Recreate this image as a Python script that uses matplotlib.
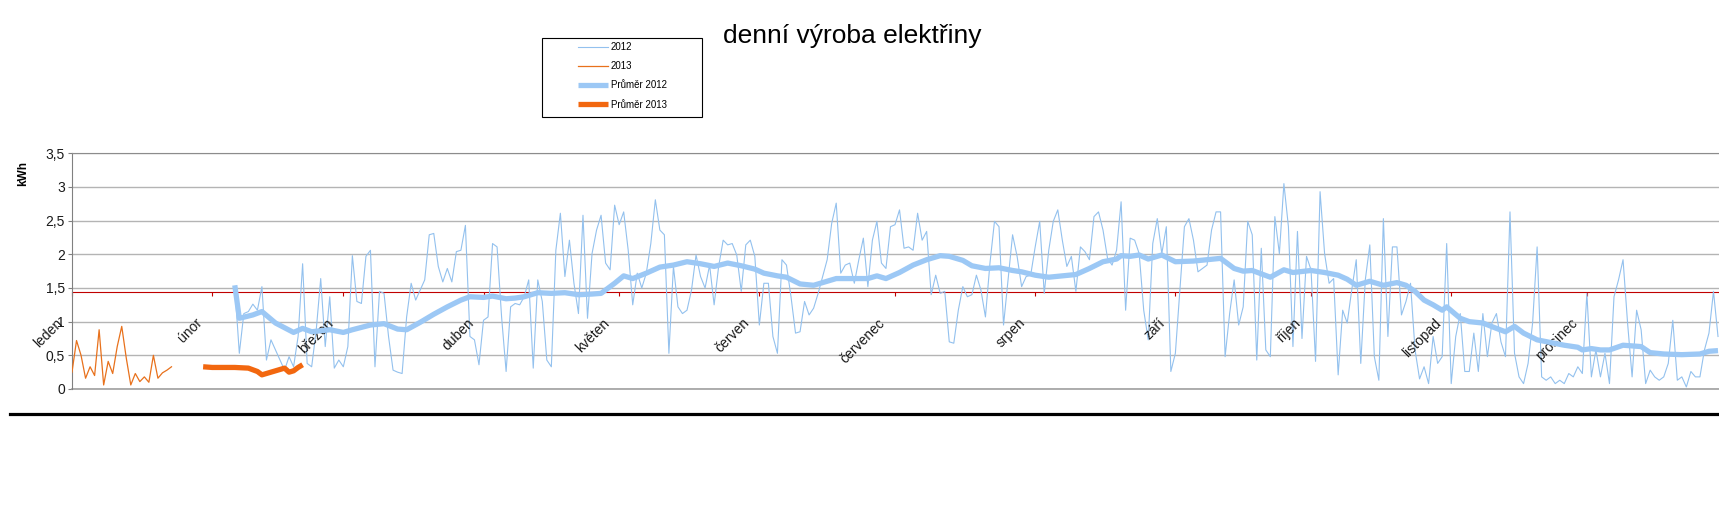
import matplotlib
matplotlib.use('Agg')
import matplotlib.pyplot as plt
import numpy as np
from matplotlib.ticker import FuncFormatter
from matplotlib.lines import Line2D
from matplotlib.patches import Rectangle

plt.rcParams['font.family'] = ['Liberation Sans', 'DejaVu Sans']

# mesice a jejich prvni den (den v roce, od 0)
mesice = ['leden', 'únor', 'březen', 'duben', 'květen', 'červen',
          'červenec', 'srpen', 'září', 'říjen', 'listopad', 'prosinec']
zacatky_mesicu = [0, 31, 60, 91, 121, 152, 182, 213, 244, 274, 305, 335]

# denni vyroba 2012 (kWh), od dne 36
prvni_den_2012 = 36
vyroba_2012 = [
    1.52, 0.53, 1.12, 1.15, 1.26, 1.17, 1.52, 0.43, 0.73, 0.58, 0.43, 0.28, 0.48,
    0.33, 0.78, 1.86, 0.38, 0.33, 0.87, 1.64, 0.63, 1.37, 0.31, 0.43, 0.33, 0.63,
    1.98, 1.30, 1.27, 1.97, 2.06, 0.33, 1.45, 1.42, 0.78, 0.28, 0.25, 0.23, 1.07,
    1.57, 1.32, 1.47, 1.62, 2.29, 2.31, 1.82, 1.59, 1.79, 1.59, 2.04, 2.06, 2.43,
    0.78, 0.73, 0.36, 1.02, 1.07, 2.16, 2.11, 1.07, 0.26, 1.22, 1.27, 1.25, 1.37,
    # duben - cerven
    1.62, 0.31, 1.62, 1.30, 0.43, 0.33, 2.06, 2.61, 1.67, 2.21, 1.57, 1.12, 2.58,
    1.05, 2.01, 2.36, 2.58, 1.87, 1.77, 2.73, 2.44, 2.63, 2.06, 1.25, 1.72, 1.50,
    1.72, 2.16, 2.81, 2.36, 2.29, 0.53, 1.82, 1.22, 1.12, 1.17, 1.47, 1.99, 1.67,
    1.50, 1.84, 1.25, 1.82, 2.21, 2.14, 2.16, 1.99, 1.45, 2.14, 2.21, 1.97, 0.95,
    1.57, 1.57, 0.78, 0.53, 1.92, 1.84, 1.37, 0.83, 0.85, 1.30, 1.10, 1.20, 1.42,
    1.67,
    # cerven - srpen
    1.92, 2.46, 2.76, 1.72, 1.84, 1.87, 1.57, 1.92, 2.24, 1.52, 2.21, 2.49, 1.87,
    1.79, 2.41, 2.44, 2.66, 2.09, 2.11, 2.06, 2.61, 2.21, 2.34, 1.40, 1.69, 1.42,
    1.45, 0.70, 0.68, 1.17, 1.52, 1.37, 1.40, 1.69, 1.47, 1.07, 1.87, 2.49, 2.41,
    0.95, 1.62, 2.29, 1.97, 1.52, 1.67, 1.69, 2.11, 2.49, 1.42, 2.06, 2.49, 2.66,
    2.21, 1.82, 1.97, 1.45, 2.11, 2.04, 1.92, 2.56, 2.63, 2.36, 1.94, 1.84, 2.06,
    2.78,
    # srpen - rijen
    1.17, 2.24, 2.21, 2.01, 1.17, 0.73, 2.16, 2.53, 2.01, 2.41, 0.26, 0.53, 1.47,
    2.41, 2.53, 2.21, 1.74, 1.79, 1.84, 2.36, 2.63, 2.63, 0.48, 1.12, 1.62, 0.95,
    1.22, 2.49, 2.29, 0.43, 2.09, 0.58, 0.48, 2.56, 2.01, 3.05, 2.41, 0.63, 2.34,
    0.75, 1.97, 1.77, 0.41, 2.93, 2.01, 1.57, 1.64, 0.21, 1.17, 0.98, 1.47, 1.92,
    0.38, 1.62, 2.14, 0.48, 0.13, 2.53, 0.78, 2.11, 2.11, 1.10, 1.30, 1.57, 0.58,
    # rijen - prosinec
    0.15, 0.33, 0.08, 0.78, 0.38, 0.48, 2.16, 0.08, 0.78, 1.12, 0.26, 0.26, 0.83,
    0.26, 1.12, 0.48, 0.98, 1.12, 0.70, 0.48, 2.63, 0.53, 0.18, 0.08, 0.38, 0.98,
    2.11, 0.18, 0.13, 0.18, 0.08, 0.13, 0.08, 0.23, 0.18, 0.33, 0.23, 1.42, 0.18,
    0.58, 0.18, 0.53, 0.08, 1.37, 1.62, 1.92, 0.98, 0.18, 1.17, 0.88, 0.08, 0.28,
    0.18, 0.13, 0.18, 0.38, 1.02, 0.13, 0.18, 0.03, 0.26, 0.18, 0.18, 0.58, 0.83,
    1.45, 0.78,
]

# denni vyroba 2013 (kWh), od dne 0
vyroba_2013 = [0.25, 0.72, 0.50, 0.16, 0.33, 0.20, 0.88, 0.06, 0.41, 0.23, 0.63,
               0.93, 0.46, 0.06, 0.23, 0.11, 0.18, 0.10, 0.50, 0.16, 0.24, 0.28,
               0.33]

# prumery
prumer_2012_dny = [36, 37, 40, 42, 45, 49, 51, 53, 57, 60, 62, 66, 69, 72, 74, 77,
                   80, 83, 86, 88, 91, 93, 96, 98, 100, 103, 106, 109, 112, 115,
                   117, 120, 122, 124, 127, 130, 133, 136, 139, 142, 145, 148, 151,
                   153, 156, 158, 161, 164, 166, 169, 172, 176, 178, 180, 183, 186,
                   189, 192, 194, 197, 199, 202, 205, 208, 210, 213, 216, 219, 222,
                   225, 228, 231, 232, 234, 236, 238, 241, 244, 248, 251, 254, 257,
                   259, 261, 263, 265, 268, 270, 274, 277, 280, 282, 284, 287, 290,
                   293, 295, 297, 299, 301, 303, 304, 307, 309, 312, 315, 317, 319,
                   321, 324, 327, 330, 333, 334, 336, 338, 340, 343, 345, 347, 349,
                   352, 356, 360, 362, 364]
prumer_2012 = [1.54, 1.05, 1.10, 1.15, 0.98, 0.84, 0.90, 0.85, 0.88, 0.84, 0.88,
               0.95, 0.97, 0.89, 0.88, 0.99, 1.11, 1.22, 1.32, 1.37, 1.36, 1.38,
               1.34, 1.35, 1.37, 1.43, 1.42, 1.43, 1.40, 1.41, 1.42, 1.57, 1.68,
               1.64, 1.72, 1.81, 1.84, 1.89, 1.86, 1.82, 1.87, 1.83, 1.78, 1.72,
               1.68, 1.66, 1.56, 1.54, 1.58, 1.64, 1.64, 1.64, 1.68, 1.64, 1.73,
               1.84, 1.92, 1.98, 1.97, 1.91, 1.83, 1.79, 1.80, 1.76, 1.74, 1.69,
               1.66, 1.68, 1.70, 1.79, 1.89, 1.93, 1.98, 1.97, 1.99, 1.93, 1.99,
               1.89, 1.90, 1.92, 1.94, 1.79, 1.75, 1.76, 1.71, 1.66, 1.77, 1.73,
               1.76, 1.73, 1.69, 1.63, 1.54, 1.60, 1.54, 1.58, 1.54, 1.45, 1.32,
               1.25, 1.17, 1.22, 1.05, 1.00, 0.98, 0.90, 0.85, 0.93, 0.83, 0.73,
               0.69, 0.65, 0.62, 0.58, 0.60, 0.58, 0.58, 0.65, 0.64, 0.63, 0.54,
               0.52, 0.51, 0.52, 0.56, 0.57]
prumer_2013_dny = [29, 31, 36, 39, 41, 42, 43, 45, 47, 48, 49, 50, 51]
prumer_2013 = [0.33, 0.32, 0.32, 0.31, 0.26, 0.21, 0.23, 0.27, 0.31, 0.25, 0.27,
               0.32, 0.36]

osa_x_hodnota = 1.436

W, H = 1719, 525
fig = plt.figure(figsize=(W / 100, H / 100), dpi=100)
ax = fig.add_axes([72 / W, (H - 389) / H, 366 * 4.522 / W, (389 - 153.3) / H])

modra_tenka = '#93C1EE'
modra = '#9CC8F5'
oranz_tenka = '#E8711C'
oranz = '#F2670F'

dny_2012 = np.arange(prvni_den_2012, prvni_den_2012 + len(vyroba_2012))
dny_2013 = np.arange(len(vyroba_2013))
l1, = ax.plot(dny_2012, vyroba_2012, color=modra_tenka, lw=0.8, zorder=3)
l2, = ax.plot(dny_2013, vyroba_2013, color=oranz_tenka, lw=0.9, zorder=3)
l3, = ax.plot(prumer_2012_dny, prumer_2012, color=modra, lw=3.8, zorder=4,
              solid_joinstyle='round', solid_capstyle='butt')
l4, = ax.plot(prumer_2013_dny, prumer_2013, color=oranz, lw=3.8, zorder=4,
              solid_joinstyle='round', solid_capstyle='butt')

ax.set_xlim(0, 366)
ax.set_ylim(0, 3.5)
ax.set_yticks(np.arange(0, 3.51, 0.5))
ax.yaxis.set_major_formatter(FuncFormatter(lambda v, p: ('%g' % v).replace('.', ',')))
ax.grid(axis='y', color='#B4B4B4', lw=1)
ax.axhline(0, color='#A0A0A0', lw=1.2, clip_on=False, zorder=1)
ax.set_axisbelow(True)
ax.tick_params(axis='y', direction='out', length=3, color='#808080',
               labelsize=10, labelcolor='#1a1a1a', pad=2)

# osa x protina osu y v hodnote prumeru
ax.spines['bottom'].set_position(('data', osa_x_hodnota))
ax.spines['bottom'].set_color('#C00000')
ax.spines['bottom'].set_zorder(2)
ax.spines['right'].set_visible(False)
ax.spines['top'].set_color('#8C8C8C')
ax.spines['left'].set_color('#808080')
ax.set_xticks(zacatky_mesicu)
ax.set_xticklabels([])
ax.tick_params(axis='x', direction='out', length=3, color='#C00000')

for den, nazev in zip(zacatky_mesicu, mesice):
    ax.annotate(nazev, xy=(den, osa_x_hodnota), xytext=(-5.0, -17.0),
                textcoords='offset points', rotation=45, ha='right', va='top',
                fontsize=10, color='#1a1a1a')

fig.text(23 / W, 1 - 173 / H, 'kWh', rotation=90, ha='center', va='center',
         fontsize=8.5, fontweight='bold')
fig.text(852 / W, 1 - 43 / H, 'denní výroba elektřiny', ha='center',
         va='baseline', fontsize=19)

# legenda
fig.add_artist(Rectangle((542 / W, 1 - 117 / H), 160 / W, 79 / H,
                         transform=fig.transFigure, fill=False,
                         edgecolor='black', lw=0.8))
fig.legend([l1, l2, l3, l4], ['2012', '2013', 'Průměr 2012', 'Průměr 2013'],
           loc='upper left', bbox_to_anchor=(578 / W, 1 - 42 / H),
           frameon=False, fontsize=7, handlelength=3.1, handletextpad=0.25,
           labelspacing=0.95, borderpad=0, borderaxespad=0)

fig.add_artist(Line2D([10 / W, 1], [1 - 414 / H, 1 - 414 / H], color='black',
                      lw=2.3, transform=fig.transFigure))

fig.savefig('out.png', dpi=100)
